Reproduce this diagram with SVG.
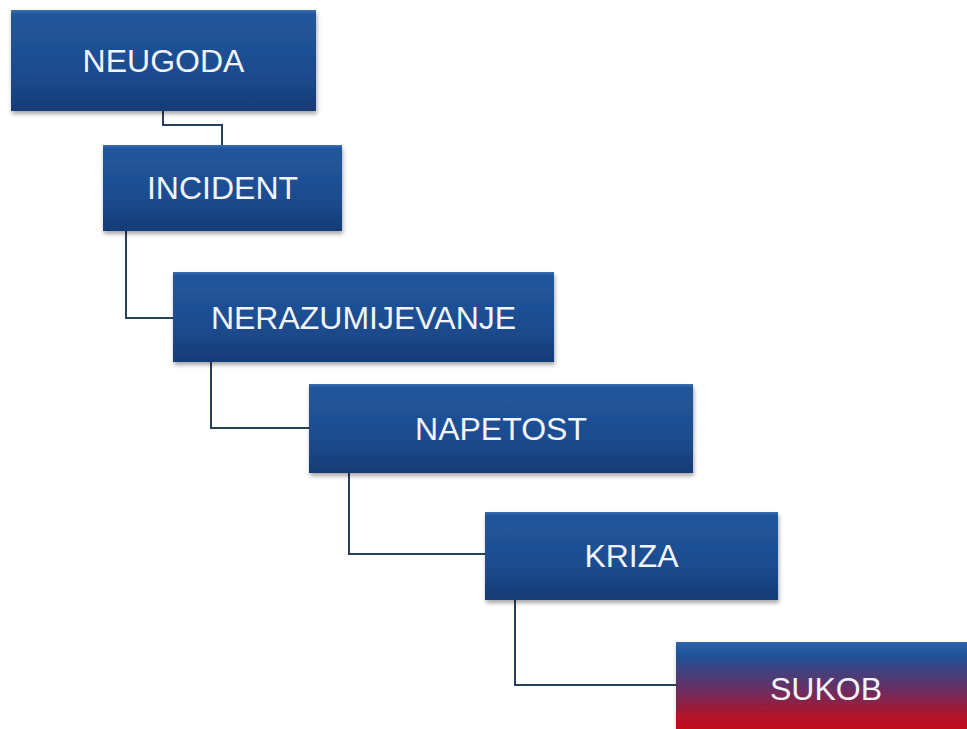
<svg xmlns="http://www.w3.org/2000/svg" width="967" height="729" viewBox="0 0 967 729">
<defs>
<linearGradient id="blue" x1="0" y1="0" x2="0" y2="1">
<stop offset="0" stop-color="#3a6db0"/>
<stop offset="0.04" stop-color="#22579c"/>
<stop offset="0.6" stop-color="#1d4c90"/>
<stop offset="1" stop-color="#153b76"/>
</linearGradient>
<linearGradient id="red" x1="0" y1="0" x2="0" y2="1">
<stop offset="0" stop-color="#2f64aa"/>
<stop offset="0.15" stop-color="#1f5196"/>
<stop offset="0.5" stop-color="#6a2e62"/>
<stop offset="0.8" stop-color="#b51226"/>
<stop offset="1" stop-color="#c80c14"/>
</linearGradient>
<filter id="sh" x="-5%" y="-5%" width="112%" height="125%">
<feGaussianBlur in="SourceAlpha" stdDeviation="2"/>
<feOffset dx="1" dy="3"/>
<feComponentTransfer><feFuncA type="linear" slope="0.35"/></feComponentTransfer>
<feMerge><feMergeNode/><feMergeNode in="SourceGraphic"/></feMerge>
</filter>
</defs>
<style>
.box{fill:url(#blue);filter:url(#sh)}
.lbl{font-family:"Liberation Sans",Arial,sans-serif;font-size:32px;fill:#f2f4f8;text-anchor:middle}
.con{fill:none;stroke:#2a3f5e;stroke-width:2}
</style>
<rect width="967" height="729" fill="#ffffff"/>
<g id="connectors">
<path class="con" d="M163,111 V125 H222 V145"/>
<path class="con" d="M126,231 V318 H173"/>
<path class="con" d="M211,362 V428 H309"/>
<path class="con" d="M349,473 V554 H485"/>
<path class="con" d="M515,600 V685 H676"/>
</g>
<g id="neugoda">
<rect class="box" x="11" y="10" width="305" height="101"/>
<text class="lbl" x="163.5" y="72">NEUGODA</text>
</g>
<g id="incident">
<rect class="box" x="103" y="145" width="239" height="86"/>
<text class="lbl" x="222.5" y="199">INCIDENT</text>
</g>
<g id="nerazumijevanje">
<rect class="box" x="173" y="272" width="381" height="90"/>
<text class="lbl" x="363.5" y="329">NERAZUMIJEVANJE</text>
</g>
<g id="napetost">
<rect class="box" x="309" y="384" width="384" height="89"/>
<text class="lbl" x="501" y="440">NAPETOST</text>
</g>
<g id="kriza">
<rect class="box" x="485" y="512" width="293" height="88"/>
<text class="lbl" x="631.5" y="567">KRIZA</text>
</g>
<g id="sukob">
<rect x="676" y="642" width="300" height="95" fill="url(#red)" filter="url(#sh)"/>
<text class="lbl" x="826" y="700">SUKOB</text>
</g>
</svg>
